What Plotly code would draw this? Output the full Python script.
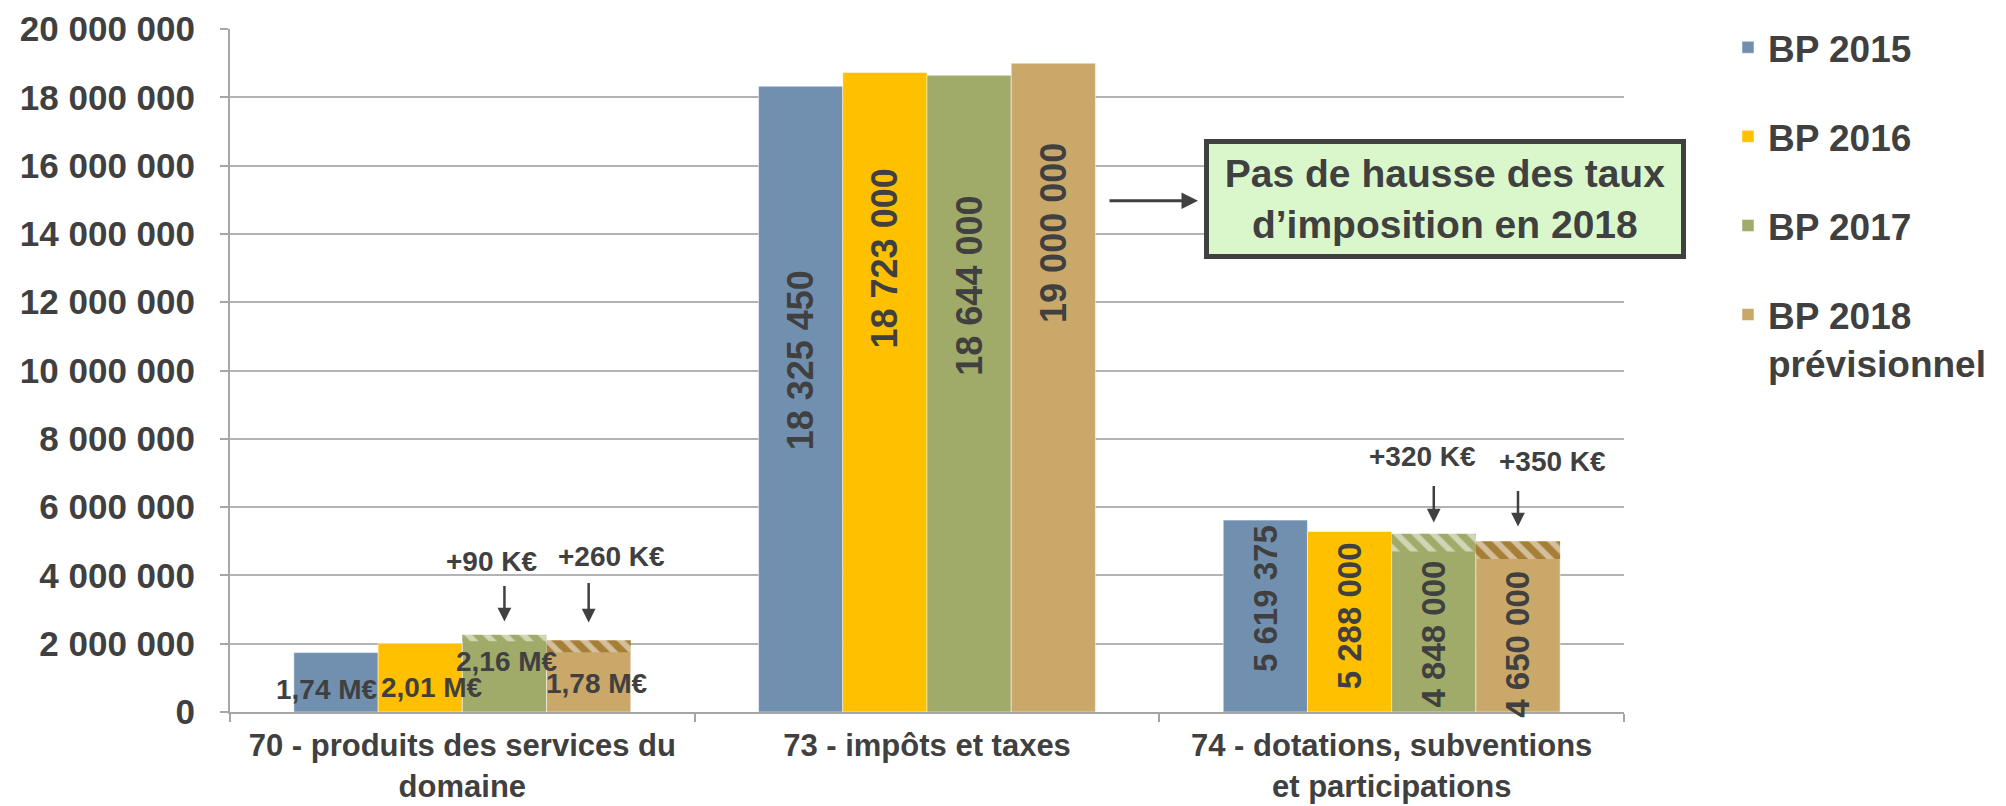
import plotly.graph_objects as go

# ---------------- data ----------------
categories = [
    "70 - produits des services du<br>domaine",
    "73 - impôts et taxes",
    "74 - dotations, subventions<br>et participations",
]
series_names = ["BP 2015", "BP 2016", "BP 2017", "BP 2018<br>prévisionnel"]
bp2015 = [1740000, 18325450, 5619375]
bp2016 = [2010000, 18723000, 5288000]
bp2017 = [2160000, 18644000, 4848000]
bp2018 = [1780000, 19000000, 4650000]

# hatched "increase" segments (bottom / top)
hatch2017_bottom = [2070000, None, 4700000]
hatch2017_top = [2260000, None, 5220000]
hatch2018_bottom = [1750000, None, 4480000]
hatch2018_top = [2100000, None, 5000000]

increase_keur_2017 = [90, None, 320]
increase_keur_2018 = [260, None, 350]

y_ticks = list(range(0, 20000001, 2000000))

# ---------------- style ----------------
colors = ["#7190B0", "#FFC000", "#A0AA69", "#C9A86A"]
hatch_bg = {"2017": "#A0AA69", "2018": "#A77E36"}
txt = "#404040"
FONT = "Liberation Sans, Arial, sans-serif"
BARGAP = 0.275
W = (1 - BARGAP) / 4  # bar width in category units


def off(i):
    return (i - 1.5) * W


series = [bp2015, bp2016, bp2017, bp2018]

fig = go.Figure()
for i, (name, vals) in enumerate(zip(series_names, series)):
    fig.add_trace(go.Bar(
        name=name, x=categories, y=vals, offsetgroup=str(i),
        marker=dict(color=colors[i], line=dict(width=1, color="rgba(255,255,255,0.5)")),
        legendgroup=str(i), hoverinfo="skip",
    ))

for i, (bot, top, key) in enumerate([(hatch2017_bottom, hatch2017_top, "2017"),
                                      (hatch2018_bottom, hatch2018_top, "2018")]):
    heights = [None if b is None else t - b for b, t in zip(bot, top)]
    fig.add_trace(go.Bar(
        x=categories, y=heights, base=bot, offsetgroup=str(i + 2), showlegend=False,
        marker=dict(color=hatch_bg[key], line=dict(width=0),
                    pattern=dict(shape="\\", fgcolor="white", bgcolor=hatch_bg[key],
                                 size=13, solidity=0.45, fillmode="overlay")),
        hoverinfo="skip",
    ))

annotations = []

# group 1 labels (M€)
lab1_dx = [-0.291, -0.065, 0.096, 0.29]
lab1_y = [653000, 710000, 1470000, 830000]
for i, vals in enumerate(series):
    annotations.append(dict(
        x=0 + lab1_dx[i], y=lab1_y[i], xref="x", yref="y", showarrow=False,
        text=f"{vals[0] / 1e6:.2f}".replace(".", ",") + " M€",
        font=dict(family=FONT, size=28, color=txt, weight="bold"),
    ))

# rotated labels group 2 & 3
lab2_y = [10287000, 13277000, 12486000, 14038000]
lab3_y = [3318000, 2820000, 2293000, 1971000]
for ci, ys, fs in [(1, lab2_y, 36), (2, lab3_y, 33)]:
    for i, vals in enumerate(series):
        annotations.append(dict(
            x=ci + off(i), y=ys[i], xref="x", yref="y", showarrow=False, textangle=-90,
            text=f"{vals[ci]:,}".replace(",", " "),
            font=dict(family=FONT, size=fs, color=txt, weight="bold"),
        ))

# increase arrows and texts
arrow_tip_y = {(0, 2): 2653000, (0, 3): 2624000, (2, 2): 5552000, (2, 3): 5435000}
arrow_len = {(0, 2): 37, (0, 3): 41, (2, 2): 38, (2, 3): 37}
inc_text_pos = {(0, 2): (0.063, 4410000), (0, 3): (0.3215, 4548000),
                (2, 2): (0.067, 7485000), (2, 3): (0.347, 7338000)}
for (ci, si), tip in arrow_tip_y.items():
    inc = (increase_keur_2017 if si == 2 else increase_keur_2018)[ci]
    annotations.append(dict(
        x=ci + off(si), y=tip, xref="x", yref="y", text="", showarrow=True,
        ax=0, ay=-arrow_len[(ci, si)], arrowhead=2, arrowsize=1.1, arrowwidth=2.5,
        arrowcolor=txt, standoff=0,
    ))
    dx, ty = inc_text_pos[(ci, si)]
    annotations.append(dict(
        x=ci + dx, y=ty, xref="x", yref="y", showarrow=False, text=f"+{inc} K€",
        font=dict(family=FONT, size=28, color=txt, weight="bold"),
    ))

# callout box
annotations.append(dict(
    x=0.8715, y=0.751, xref="paper", yref="paper", xanchor="center", yanchor="middle",
    showarrow=False,
    text="Pas de hausse des taux<br>d’imposition en 2018",
    font=dict(family=FONT, size=39, color=txt, weight="bold"),
    bgcolor="#DAF7CC", bordercolor="#404040", borderwidth=5, borderpad=2,
    width=468, height=106, align="center", valign="middle",
))
annotations.append(dict(
    x=0.6944, y=0.7486, xref="paper", yref="paper", text="", showarrow=True,
    ax=-90, ay=0, arrowhead=2, arrowsize=1.1, arrowwidth=3, arrowcolor=txt, standoff=0,
))

fig.update_layout(
    width=2006, height=806,
    margin=dict(l=230, r=382, t=29, b=94, autoexpand=False),
    paper_bgcolor="white", plot_bgcolor="white",
    barmode="group", bargap=BARGAP, bargroupgap=0,
    separators=", ",
    font=dict(family=FONT, color=txt, weight="bold"),
    legend=dict(
        x=1.0746, y=1.018, xanchor="left", yanchor="top",
        font=dict(family=FONT, size=37, color=txt, weight="bold"),
        tracegroupgap=38, valign="top", bgcolor="rgba(0,0,0,0)",
    ),
    annotations=annotations,
    xaxis=dict(
        type="category", showline=True, linecolor="#A6A6A6", linewidth=2,
        ticks="outside", tickson="boundaries", ticklen=8, tickcolor="#A6A6A6", tickwidth=2,
        tickfont=dict(family=FONT, size=31, color=txt, weight="bold"),
        tickangle=0, automargin=False, ticklabelstandoff=5,
        showgrid=False, zeroline=False,
    ),
    yaxis=dict(
        range=[0, 20000000], tickvals=y_ticks, tickformat=",d",
        showline=True, linecolor="#A6A6A6", linewidth=2,
        ticks="outside", ticklen=8, tickcolor="#A6A6A6", tickwidth=2,
        showgrid=True, gridcolor="#B3B3B3", gridwidth=1.5, zeroline=False,
        tickfont=dict(family=FONT, size=35, color=txt, weight="bold"),
        ticklabelstandoff=18, automargin=False,
    ),
)

fig.write_html(
    "out.html",
    config={"displayModeBar": False},
    post_script="document.body.style.margin='0px';document.body.style.overflow='hidden';",
)
